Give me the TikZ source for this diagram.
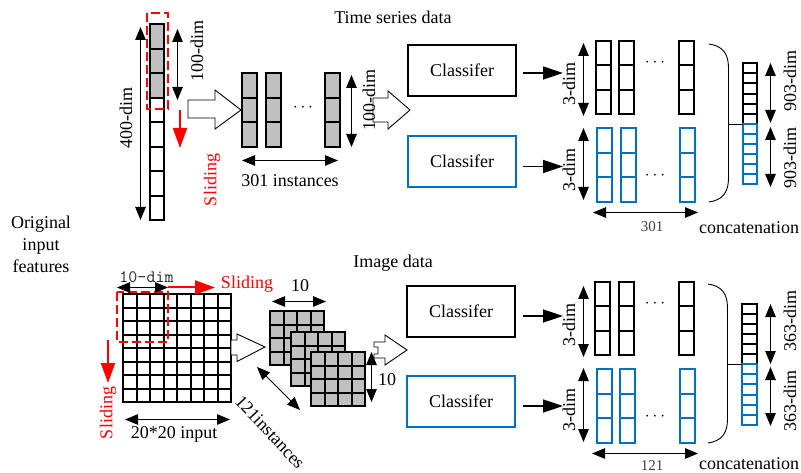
\documentclass[tikz,border=0pt]{standalone}
\usepackage{fontspec}
\setmainfont{Liberation Serif}
\usetikzlibrary{arrows.meta}
\definecolor{cblue}{RGB}{0,112,192}
\definecolor{cgray}{RGB}{192,192,192}
\definecolor{ctext}{RGB}{64,64,64}

% a vertical stack of cells: name, x, top y, width, cell height, count, style
% (edges are snapped to whole units so the outlines stay sharp)
\newcommand\cellstack[7]{%
  \foreach \k in {1,...,#6}{%
    \pgfmathsetmacro\ya{round(#3+(\k-1)*#5)}%
    \pgfmathsetmacro\yb{round(#3+\k*#5)}%
    \pgfmathsetmacro\hh{\yb-\ya}%
    \node[#7, minimum width=#4pt, minimum height=\hh pt, anchor=north west]
      (#1-\k) at (#2,\ya) {};
  }%
}
% a square grid of cells: name, x, top y, cell size, cells per side, style
\newcommand\cellgrid[6]{%
  \foreach \rr in {1,...,#5}{%
    \foreach \cc in {1,...,#5}{%
      \pgfmathsetmacro\xa{round(#2+(\cc-1)*#4)}%
      \pgfmathsetmacro\xb{round(#2+\cc*#4)}%
      \pgfmathsetmacro\ya{round(#3+(\rr-1)*#4)}%
      \pgfmathsetmacro\yb{round(#3+\rr*#4)}%
      \pgfmathsetmacro\ww{\xb-\xa}%
      \pgfmathsetmacro\hh{\yb-\ya}%
      \node[#6, minimum width=\ww pt, minimum height=\hh pt, anchor=north west]
        (#1-\rr-\cc) at (\xa,\ya) {};
    }%
  }%
}

\begin{document}
\begin{tikzpicture}[x=1pt,y=-1pt,
  every node/.style={inner sep=0pt, outer sep=0pt},
  lbl/.style={font=\fontsize{18}{22}\selectfont},
  small/.style={font=\fontsize{15}{17}\selectfont, text=ctext},
  mono/.style={font=\ttfamily\fontsize{17.5}{20}\selectfont, text=black!85},
  redlbl/.style={lbl, text=red},
  wcell/.style={draw, line width=1.8pt},
  bcell/.style={draw=cblue, line width=1.8pt},
  tcell/.style={draw, line width=1.5pt},
  tbcell/.style={draw=cblue, line width=1.5pt},
  graybg/.style={fill=cgray},
  clsbox/.style={draw, line width=1.8pt, minimum width=108pt, minimum height=51pt, lbl},
  dimarr/.style={{Triangle[length=13pt,width=10.5pt]}-{Triangle[length=13pt,width=10.5pt]}, line width=0.9pt},
  outarr/.style={-{Triangle[length=20pt,width=13pt]}, line width=1.5pt},
  slide/.style={-{Triangle[length=20pt,width=14pt]}, line width=2pt, red},
  window/.style={draw=red, line width=1.5pt, dash pattern=on 9pt off 4pt},
  hollow/.style={draw, line width=0.9pt, fill=white},
  brace/.style={draw, line width=0.9pt},
]
\useasboundingbox (0,0) rectangle (801,473);

% ---------- titles ----------
\node[lbl, anchor=base] (tstitle) at (393,24) {Time series data};
\node[lbl, anchor=base] (imtitle) at (393,268) {Image data};
\node[lbl, align=center] (orig) at (41,244) {Original\\input\\features};

% ================= time series =================
\fill[graybg] (150,24) rectangle (164,98);
\cellstack{tg}{150}{24}{14}{24.5}{3}{wcell}
\cellstack{tw}{150}{97.5}{14}{24.5}{5}{wcell}
\draw[window] (147,13) rectangle (168,109);

\coordinate (a400t) at (140.5,27);  \coordinate (a400b) at (140.5,220);
\draw[dimarr] (a400t) -- (a400b);
\node[lbl, rotate=90] (l400) at (126,118) {400-dim};

\coordinate (a100t) at (177.5,29);  \coordinate (a100b) at (177.5,100);
\draw[dimarr] (a100t) -- (a100b);
\node[lbl, rotate=90] (l100) at (197,51) {100-dim};

\coordinate (s1t) at (180,110);  \coordinate (s1b) at (180,148);
\draw[slide] (s1t) -- (s1b);
\node[redlbl, rotate=90] (sl1) at (212,180) {Sliding};

\draw[hollow] (188,100) -- (215,100) -- (215,90) -- (241,110) -- (215,129)
  -- (215,118) -- (188,118) -- cycle;

\foreach \nm/\xx in {ia/242, ib/266, ic/325}{
  \fill[graybg] (\xx,73) rectangle ({\xx+15},147);
  \cellstack{\nm}{\xx}{73}{15}{24.67}{3}{wcell}
}
\node[lbl, anchor=base] (idots) at (303,111.5) {$\cdots$};

\draw[hollow] (373,98) -- (388,98) -- (388,91) -- (410,110) -- (388,129)
  -- (388,122) -- (373,122) -- cycle;

\coordinate (a100rt) at (351.5,75);  \coordinate (a100rb) at (351.5,147);
\draw[dimarr] (a100rt) -- (a100rb);
\node[lbl, rotate=90] (l100r) at (369,100) {100-dim};

\coordinate (a301l) at (242,160.5);  \coordinate (a301r) at (338,160.5);
\draw[dimarr] (a301l) -- (a301r);
\node[lbl, anchor=base] (l301i) at (290,187) {301 instances};

\node[clsbox] (cls1) at (462,70.5) {Classifer};
\node[clsbox, draw=cblue] (cls2) at (462,161.5) {Classifer};
\draw[outarr] ([xshift=7pt,yshift=-2.5pt]cls1.east) -- ++(40,0);
\draw[outarr] ([xshift=7pt,yshift=-5pt]cls2.east) -- ++(40,0);

\coordinate (d3at) at (583.5,43);  \coordinate (d3ab) at (583.5,116);
\draw[dimarr] (d3at) -- (d3ab);
\node[lbl, rotate=90] (l3a) at (569,84) {3-dim};
\coordinate (d3bt) at (583.5,128);  \coordinate (d3bb) at (583.5,200);
\draw[dimarr] (d3bt) -- (d3bb);
\node[lbl, rotate=90] (l3b) at (569,170) {3-dim};

\cellstack{ra}{596}{41}{15}{24.33}{3}{wcell}
\cellstack{rb}{619}{41}{15}{24.33}{3}{wcell}
\cellstack{rc}{679}{41}{15}{24.33}{3}{wcell}
\node[lbl, anchor=base] (rdots) at (655,66.5) {$\cdots$};
\cellstack{ba}{597}{128}{15}{24.67}{3}{bcell}
\cellstack{bb}{621}{128}{15}{24.67}{3}{bcell}
\cellstack{bc}{680}{128}{15}{24.67}{3}{bcell}
\node[lbl, anchor=base] (bdots) at (655,179.5) {$\cdots$};

\coordinate (n301l) at (593,212.5);  \coordinate (n301r) at (698,212.5);
\draw[dimarr] (n301l) -- (n301r);
\node[small, anchor=base] (l301) at (652,232) {301};

\draw[brace] (709,44) .. controls (723,46) and (728.5,54) .. (728.5,68)
  -- (728.5,178) .. controls (728.5,192) and (723,200) .. (709,202);
\coordinate (br1) at (728.5,124);

\cellstack{ck}{743}{63}{14}{10.17}{6}{tcell}
\cellstack{cb}{743}{124}{14}{10}{6}{tbcell}
\draw[line width=0.9pt] (br1) -- (cb-1.north west);

\coordinate (d9at) at (770.5,63);  \coordinate (d9ab) at (770.5,123);
\draw[dimarr] (d9at) -- (d9ab);
\node[lbl, rotate=90] (l9a) at (790,81) {903-dim};
\coordinate (d9bt) at (770.5,127);  \coordinate (d9bb) at (770.5,187);
\draw[dimarr] (d9bt) -- (d9bb);
\node[lbl, rotate=90] (l9b) at (790,158) {903-dim};
\node[lbl, anchor=base] (cat1) at (749,234) {concatenation};

% ================= image =================
\cellgrid{gi}{123}{294}{13.5}{8}{wcell}
\draw[window] (117,292) rectangle (168,342);

\coordinate (d10l) at (117,287.5);  \coordinate (d10r) at (168,287.5);
\draw[dimarr] (d10l) -- (d10r);
\node[mono, anchor=base] (l10d) at (146.5,283) {10-dim};
\coordinate (s2e) at (215,287.5);
\draw[slide] (d10r) -- (s2e);
\node[redlbl, anchor=base] (sl2) at (247,289) {Sliding};

\coordinate (s3t) at (108,340);  \coordinate (s3b) at (108,383);
\draw[slide] (s3t) -- (s3b);
\node[redlbl, rotate=90] (sl3) at (108,413) {Sliding};

\coordinate (d20l) at (125,419.5);  \coordinate (d20r) at (230,419.5);
\draw[dimarr] (d20l) -- (d20r);
\node[lbl, anchor=base] (l20) at (174,438) {20*20 input};

\draw[hollow] (231,340) -- (237,340) -- (237,334) -- (265,347) -- (237,361.5)
  -- (237,355) -- (231,355) -- cycle;

% three stacked 10x10 windows, each covering the one behind it
\foreach \nm/\xx/\yy in {ga/270/311, gb/291/332, gc/311/352}{
  \fill[graybg] (\xx,\yy) rectangle ({\xx+54},{\yy+54});
  \cellgrid{\nm}{\xx}{\yy}{13.5}{4}{wcell}
}

\coordinate (t10l) at (272,301.5);  \coordinate (t10r) at (326,301.5);
\draw[dimarr] (t10l) -- (t10r);
\node[lbl, anchor=base] (l10t) at (300,292) {10};
\coordinate (r10t) at (371.5,352);  \coordinate (r10b) at (371.5,402);
\draw[dimarr] (r10t) -- (r10b);
\node[lbl, anchor=base] (l10r) at (387,385) {10};

\coordinate (i121a) at (257,367);  \coordinate (i121b) at (300,410);
\draw[dimarr] (i121a) -- (i121b);
\node[lbl, rotate=-47] (l121i) at (270,432) {121instances};

\draw[hollow] (374,342) -- (385,342) -- (385,335) -- (407,350) -- (385,365)
  -- (385,358) -- (374,358) -- (374,354) -- (378,354) -- (378,347) -- (374,347) -- cycle;

\node[clsbox] (cls3) at (461,311.5) {Classifer};
\node[clsbox, draw=cblue] (cls4) at (461,401.5) {Classifer};
\draw[outarr] ([xshift=8pt,yshift=-4.5pt]cls3.east) -- ++(40,0);
\draw[outarr] ([xshift=8pt,yshift=-4.5pt]cls4.east) -- ++(40,0);

\coordinate (e3at) at (583.5,286);  \coordinate (e3ab) at (583.5,357);
\draw[dimarr] (e3at) -- (e3ab);
\node[lbl, rotate=90] (l3c) at (569,325) {3-dim};
\coordinate (e3bt) at (583.5,368);  \coordinate (e3bb) at (583.5,442);
\draw[dimarr] (e3bt) -- (e3bb);
\node[lbl, rotate=90] (l3d) at (569,410) {3-dim};

\cellstack{sa}{595}{282}{15}{24.33}{3}{wcell}
\cellstack{sb}{619}{282}{15}{24.33}{3}{wcell}
\cellstack{sc}{679}{282}{15}{24.33}{3}{wcell}
\node[lbl, anchor=base] (sdots) at (655,307.5) {$\cdots$};
\cellstack{ua}{597}{369}{15}{24.67}{3}{bcell}
\cellstack{ub}{620}{369}{15}{24.67}{3}{bcell}
\cellstack{uc}{680}{369}{15}{24.67}{3}{bcell}
\node[lbl, anchor=base] (udots) at (655,420.5) {$\cdots$};

\coordinate (n121l) at (592,453.5);  \coordinate (n121r) at (698,453.5);
\draw[dimarr] (n121l) -- (n121r);
\node[small, anchor=base] (l121) at (652,470) {121};

\draw[brace] (708,284) .. controls (722,286) and (727.5,294) .. (727.5,308)
  -- (727.5,419) .. controls (727.5,433) and (722,441) .. (708,443);
\coordinate (br2) at (727.5,364);

\cellstack{dk}{742}{304}{15}{10}{6}{tcell}
\cellstack{db}{742}{364}{15}{10.17}{6}{tbcell}
\draw[line width=0.9pt] (br2) -- (db-1.north west);

\coordinate (d3ct) at (770.5,304);  \coordinate (d3cb) at (770.5,364);
\draw[dimarr] (d3ct) -- (d3cb);
\node[lbl, rotate=90] (l36a) at (790,321) {363-dim};
\coordinate (d3dt) at (770.5,367);  \coordinate (d3db) at (770.5,426);
\draw[dimarr] (d3dt) -- (d3db);
\node[lbl, rotate=90] (l36b) at (790,401) {363-dim};
\node[lbl, anchor=base] (cat2) at (749,469.5) {concatenation};

\end{tikzpicture}
\end{document}
